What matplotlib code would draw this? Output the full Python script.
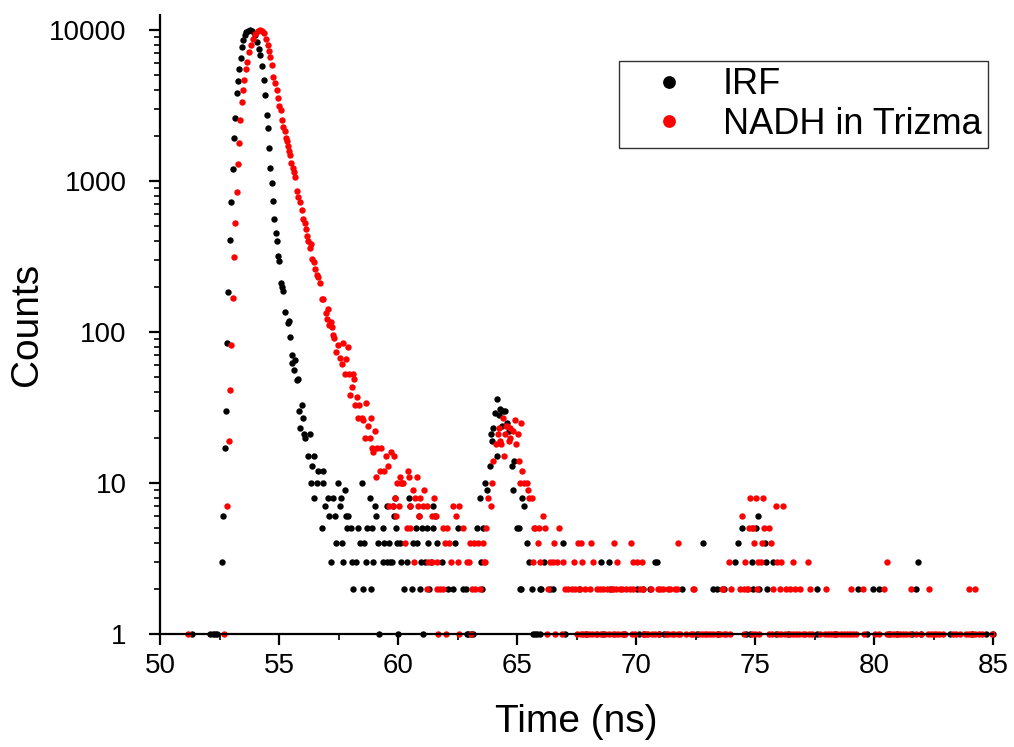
"""TCSPC decay: IRF vs NADH in Trizma, log counts vs time."""

import matplotlib
matplotlib.use("Agg")
import matplotlib.pyplot as plt
from matplotlib.ticker import FixedLocator, LogLocator, NullFormatter, FixedFormatter

plt.rcParams["font.family"] = ["Liberation Sans", "DejaVu Sans"]

# ---- IRF (black): main pulse + second reflection peak ----
irf_peak_t = [52.60, 52.66, 52.73, 52.79, 52.82, 52.87, 52.94, 52.98, 53.05, 53.11,
              53.16, 53.22, 53.26, 53.32, 53.39, 53.45, 53.50, 53.56, 53.61, 53.70,
              53.78, 53.87, 54.00, 54.09, 54.14, 54.21, 54.29, 54.37, 54.42, 54.48,
              54.52, 54.58, 54.63, 54.71, 54.76, 54.80, 54.86, 54.91, 54.97, 55.02,
              55.08, 55.12, 55.18, 55.26, 55.36, 55.42, 55.47, 55.53, 55.56, 55.64,
              55.68, 55.74, 55.79, 55.85, 55.90, 55.95, 56.02, 56.06, 56.11, 56.21,
              56.30, 56.33, 56.40, 56.45, 56.48, 56.60, 56.65, 56.79, 56.83, 56.86,
              56.95, 57.07, 57.09, 57.18, 57.28, 57.34, 57.38, 57.49, 57.56, 57.60,
              57.64, 57.70, 57.77, 57.81, 57.87, 57.92, 58.02, 58.05, 58.12, 58.22,
              58.32, 58.40, 58.47, 58.54, 58.57, 58.65, 58.71, 58.82, 58.86, 58.92,
              58.96, 59.03, 59.07, 59.17, 59.36, 59.40, 59.38, 59.52, 59.55, 59.63,
              59.66, 59.76, 59.80, 59.83, 59.87, 59.91, 59.97, 60.08, 60.11, 60.26,
              60.37, 60.46, 60.49, 60.57, 60.64, 60.76, 60.81, 60.88, 60.91, 60.95,
              60.99, 61.13, 61.23, 61.27, 61.29, 61.37, 61.45, 61.48, 61.55, 61.63,
              61.84, 62.10, 62.32, 62.39, 62.53, 62.72, 62.86]
irf_peak_c = [3, 6, 17, 30, 84, 185, 407, 729, 1200, 1935,
              2600, 3800, 4600, 5500, 6560, 7700, 8530, 9220, 9700, 9900,
              10000, 9900, 9200, 8300, 7500, 6800, 5800, 4700, 3700, 2750,
              2250, 1650, 1210, 970, 735, 560, 455, 398, 318, 294,
              212, 199, 188, 136, 115, 118, 92, 62, 70, 56,
              65, 48, 49, 30, 23, 33, 27, 21, 20, 15,
              21, 10, 13, 15, 8, 10, 12, 5, 10, 12,
              7, 8, 6, 3, 8, 6, 4, 10, 7, 8,
              4, 3, 9, 6, 5, 6, 5, 3, 2, 3,
              5, 4, 10, 2, 4, 3, 5, 8, 2, 5,
              3, 7, 6, 4, 5, 4, 3, 7, 3, 4,
              3, 3, 7, 6, 8, 5, 4, 4, 3, 2,
              3, 8, 7, 2, 4, 5, 4, 6, 2, 3,
              5, 3, 5, 4, 2, 3, 5, 7, 6, 4,
              3, 2, 2, 4, 5, 2, 2]

irf_tail_t = [63.30, 63.45, 63.50, 63.52, 63.58, 63.64, 63.72, 63.87, 63.91, 63.95,
              64.00, 64.06, 64.14, 64.18, 64.23, 64.29, 64.39, 64.42, 64.50, 64.59,
              64.67, 64.79, 64.84, 64.88, 64.99, 65.08, 65.13, 65.17, 65.22, 65.31,
              65.44, 65.51, 65.62, 65.97, 66.01, 66.13, 66.39, 66.50, 66.94, 67.62,
              68.53, 68.87, 68.90, 70.03, 70.31, 70.59, 70.80, 70.87, 71.92, 72.80,
              73.25, 73.39, 73.71, 74.16, 74.30, 74.44, 74.86, 74.90, 75.04, 75.14,
              75.17, 75.42, 75.46, 75.52, 75.74, 77.59, 79.34, 79.97, 80.22, 81.76,
              81.86]
irf_tail_c = [5, 8, 3, 2, 5, 10, 9, 13, 21, 19,
              23, 29, 15, 36, 28, 31, 24, 30, 30, 25,
              22, 13, 9, 14, 5, 5, 2, 2, 8, 7,
              4, 3, 2, 2, 2, 3, 2, 2, 4, 2,
              3, 3, 2, 2, 2, 2, 3, 3, 2, 4,
              2, 2, 2, 3, 4, 5, 3, 2, 5, 6,
              2, 4, 3, 2, 3, 2, 2, 2, 2, 2,
              3]

irf_ones_t = [51.35, 52.10, 52.22, 52.30, 52.40, 59.21, 60.01, 61.06, 62.88, 62.96,
              63.05, 63.15, 65.67, 65.75, 65.83, 65.97, 67.02, 67.90, 68.60, 69.50,
              70.12, 70.35, 70.98, 71.18, 72.55, 73.45, 74.62, 74.80, 75.90, 76.40,
              77.60, 78.35, 79.70, 80.62, 80.95, 81.60, 81.98, 83.20, 84.10, 84.70,
              84.98]

# ---- NADH in Trizma (red) ----
nadh_peak_t = [52.80, 52.88, 52.94, 52.99, 53.05, 53.11, 53.16, 53.22, 53.26, 53.32,
               53.37, 53.43, 53.48, 53.54, 53.60, 53.67, 53.75, 53.81, 53.89, 53.99,
               54.10, 54.20, 54.30, 54.38, 54.45, 54.52, 54.59, 54.64, 54.69, 54.76,
               54.84, 54.92, 54.97, 55.00, 55.07, 55.12, 55.18, 55.25, 55.29, 55.33,
               55.38, 55.42, 55.47, 55.52, 55.57, 55.62, 55.66, 55.74, 55.81, 55.88,
               55.97, 56.02, 56.08, 56.12, 56.18, 56.23, 56.30, 56.36, 56.40, 56.47,
               56.51, 56.58, 56.65, 56.72, 56.79, 56.86, 56.96, 57.00, 57.06, 57.11,
               57.18, 57.21, 57.28, 57.32, 57.39, 57.49, 57.56, 57.63, 57.70, 57.77,
               57.82, 57.89, 57.95, 57.98, 58.05, 58.09, 58.16, 58.19, 58.26, 58.33,
               58.37, 58.47, 58.54, 58.61, 58.66, 58.75, 58.82, 58.87, 58.90, 58.93,
               59.03, 59.09, 59.10, 59.24, 59.27, 59.41, 59.48, 59.59, 59.69, 59.84,
               59.95, 60.08, 60.11, 60.17, 60.22, 60.41, 60.46, 60.64, 60.79, 61.11]
nadh_peak_c = [7, 19, 41, 82, 169, 312, 530, 840, 1300, 1780,
               2520, 3360, 4000, 4700, 5530, 6120, 7200, 7980, 8700, 9400,
               9800, 10000, 9900, 9550, 8700, 8000, 7250, 6600, 5850, 4900,
               4450, 4000, 3570, 3150, 2950, 2530, 2290, 2150, 1930, 1830,
               1700, 1570, 1480, 1315, 1210, 1150, 1070, 855, 780, 730,
               640, 560, 530, 480, 434, 398, 360, 380, 304, 293,
               260, 240, 232, 212, 166, 165, 133, 122, 141, 111,
               116, 108, 96, 91, 74, 82, 67, 61, 84, 53,
               66, 79, 53, 38, 43, 53, 49, 33, 37, 27,
               33, 27, 26, 20, 34, 24, 20, 27, 17, 16,
               22, 11, 17, 12, 17, 12, 15, 13, 16, 15,
               10, 11, 10, 10, 10, 12, 11, 9, 11, 9]

nadh_tail_t = [59.63, 59.78, 59.86, 59.92, 60.03, 60.29, 60.36, 60.50, 60.52, 60.68,
               60.71, 60.85, 60.87, 60.92, 61.04, 61.20, 61.23, 61.27, 61.41, 61.42,
               61.51, 61.60, 61.63, 61.65, 61.76, 61.88, 61.90, 61.97, 62.05, 62.16,
               62.23, 62.32, 62.44, 62.53, 62.58, 62.74, 62.89, 63.00, 63.03, 63.09,
               63.19, 63.24, 63.37, 63.45, 63.58, 63.60, 63.67, 63.69, 63.79, 63.92,
               63.97, 64.00, 64.12, 64.19, 64.23, 64.29, 64.33, 64.42, 64.47, 64.50,
               64.54, 64.56, 64.65, 64.69, 64.72, 64.84, 64.93, 64.97, 65.06, 65.08,
               65.12, 65.18, 65.23, 65.30, 65.40, 65.48, 65.52, 65.61, 65.68, 65.72,
               65.76, 65.87, 65.94, 65.97, 66.10, 66.18, 66.32, 66.39, 66.53, 66.55,
               66.67, 66.77, 66.92, 67.02, 67.16, 67.30, 67.39, 67.44, 67.57, 67.65,
               67.68, 67.74, 67.86, 68.07, 68.10, 68.18, 68.35, 68.49, 68.63, 68.77,
               68.98, 69.05, 69.08, 69.16, 69.20, 69.33, 69.40, 69.58, 69.75, 69.78,
               69.86, 69.89, 70.03, 70.17, 70.24, 70.31, 70.63, 70.94, 71.01, 71.15,
               71.36, 71.43, 71.64, 71.71, 71.75, 72.41, 72.45, 73.60, 73.66, 73.89,
               74.01, 74.37, 74.44, 74.54, 74.58, 74.65, 74.72, 74.76, 74.81, 74.89,
               74.93, 74.97, 75.06, 75.10, 75.14, 75.24, 75.28, 75.32, 75.38, 75.60,
               75.66, 75.77, 75.88, 75.91, 76.05, 76.08, 76.16, 76.30, 76.47, 76.58,
               76.68, 76.89, 77.24, 77.31, 77.97, 79.02, 79.55, 80.42, 80.53, 81.54,
               82.31, 84.00, 84.24]
nadh_tail_c = [7, 7, 8, 6, 7, 4, 5, 7, 5, 3,
               8, 7, 6, 8, 7, 7, 2, 3, 3, 6,
               8, 6, 3, 2, 2, 5, 2, 4, 5, 4,
               3, 7, 6, 3, 7, 5, 3, 3, 4, 2,
               4, 2, 4, 2, 4, 3, 3, 5, 8, 7,
               10, 14, 18, 21, 23, 19, 18, 27, 15, 21,
               24, 24, 19, 23, 20, 22, 26, 18, 21, 14,
               10, 25, 12, 10, 10, 9, 8, 8, 3, 5,
               5, 4, 5, 3, 6, 5, 2, 3, 3, 4,
               3, 5, 3, 2, 2, 2, 3, 2, 4, 2,
               4, 3, 2, 2, 4, 3, 2, 2, 2, 2,
               2, 2, 4, 2, 3, 2, 2, 2, 2, 4,
               3, 2, 3, 2, 3, 2, 2, 2, 2, 2,
               2, 2, 2, 2, 4, 2, 2, 2, 2, 3,
               2, 2, 6, 2, 3, 2, 2, 5, 8, 5,
               5, 4, 8, 2, 3, 3, 4, 8, 5, 5,
               4, 2, 7, 3, 2, 3, 7, 2, 2, 3,
               2, 2, 3, 2, 2, 2, 2, 2, 3, 2,
               2, 2, 2]

nadh_ones_t = [51.19, 52.70, 61.66, 62.00, 62.58, 63.07, 66.25, 66.60, 66.88, 67.51,
               67.70, 67.78, 67.90, 68.02, 68.15, 68.30, 68.38, 68.55, 68.70, 68.85,
               69.02, 69.12, 69.25, 69.40, 69.55, 69.82, 69.95, 70.30, 70.42, 70.52,
               70.66, 70.80, 70.95, 71.25, 71.36, 71.50, 71.60, 71.75, 71.86, 72.10,
               72.30, 72.40, 72.65, 72.76, 72.90, 73.00, 73.12, 73.25, 73.40, 73.55,
               73.70, 73.80, 73.95, 74.55, 74.88, 75.02, 75.18, 75.60, 75.72, 75.95,
               76.10, 76.28, 76.45, 76.60, 76.72, 76.85, 77.00, 77.12, 77.25, 77.40,
               77.75, 77.95, 78.05, 78.20, 78.32, 78.45, 78.60, 78.72, 78.85, 78.98,
               79.12, 79.25, 79.60, 80.05, 80.20, 80.55, 80.70, 80.85, 80.98, 81.10,
               81.22, 81.35, 81.50, 81.75, 81.98, 82.25, 82.38, 82.50, 82.62, 82.75,
               82.90, 83.30, 83.45, 83.60, 83.88, 84.00, 84.12, 84.25, 84.40, 84.55,
               84.95]

x_ticks = [50, 55, 60, 65, 70, 75, 80, 85]
y_ticks = [1, 10, 100, 1000, 10000]
y_tick_labels = ["1", "10", "100", "1000", "10000"]


def main():
    fig = plt.figure(figsize=(10.14, 7.47), dpi=100)
    ax = fig.add_axes([160 / 1014, 1 - 634 / 747, 833 / 1014, 619 / 747])

    irf_t = irf_peak_t + irf_tail_t + irf_ones_t
    irf_c = irf_peak_c + irf_tail_c + [1] * len(irf_ones_t)
    nadh_t = nadh_peak_t + nadh_tail_t + nadh_ones_t
    nadh_c = nadh_peak_c + nadh_tail_c + [1] * len(nadh_ones_t)

    kw = dict(linestyle="none", marker="o", markersize=4.6, markeredgewidth=0, clip_on=False)
    ax.plot(irf_t, irf_c, color="black", label="IRF", **kw)
    ax.plot(nadh_t, nadh_c, color="#ff0000", label="NADH in Trizma", **kw)

    ax.set_yscale("log")
    ax.set_xlim(50, 85)
    ax.set_ylim(1, 10 ** (619 / 151))

    ax.xaxis.set_major_locator(FixedLocator(x_ticks))
    ax.xaxis.set_minor_locator(FixedLocator([x + 2.5 for x in x_ticks[:-1]]))
    ax.yaxis.set_major_locator(FixedLocator(y_ticks))
    ax.yaxis.set_major_formatter(FixedFormatter(y_tick_labels))
    ax.yaxis.set_minor_locator(LogLocator(base=10, subs=(2, 3, 4, 5, 6, 7, 8, 9)))
    ax.yaxis.set_minor_formatter(NullFormatter())

    for s in ("top", "right"):
        ax.spines[s].set_visible(False)
    for s in ("left", "bottom"):
        ax.spines[s].set_linewidth(1.6)
    ax.tick_params(which="major", direction="out", length=8, width=1.6, labelsize=20)
    ax.tick_params(which="minor", direction="out", length=4, width=1.2)
    ax.tick_params(axis="x", pad=6)
    ax.tick_params(axis="y", pad=16)

    ax.set_xlabel("Time (ns)", fontsize=28, labelpad=18)
    ax.set_ylabel("Counts", fontsize=28, labelpad=3)

    leg = ax.legend(loc="upper right", bbox_to_anchor=((988 - 160) / 833, (634 - 61) / 619),
                    borderaxespad=0, fontsize=26, frameon=True, fancybox=False,
                    markerscale=2.0, handletextpad=0.3, borderpad=0.18, labelspacing=0.12,
                    handlelength=2.4)
    leg.get_frame().set_edgecolor("black")
    leg.get_frame().set_linewidth(1.0)

    fig.savefig("out.png", dpi=100)


if __name__ == "__main__":
    main()
